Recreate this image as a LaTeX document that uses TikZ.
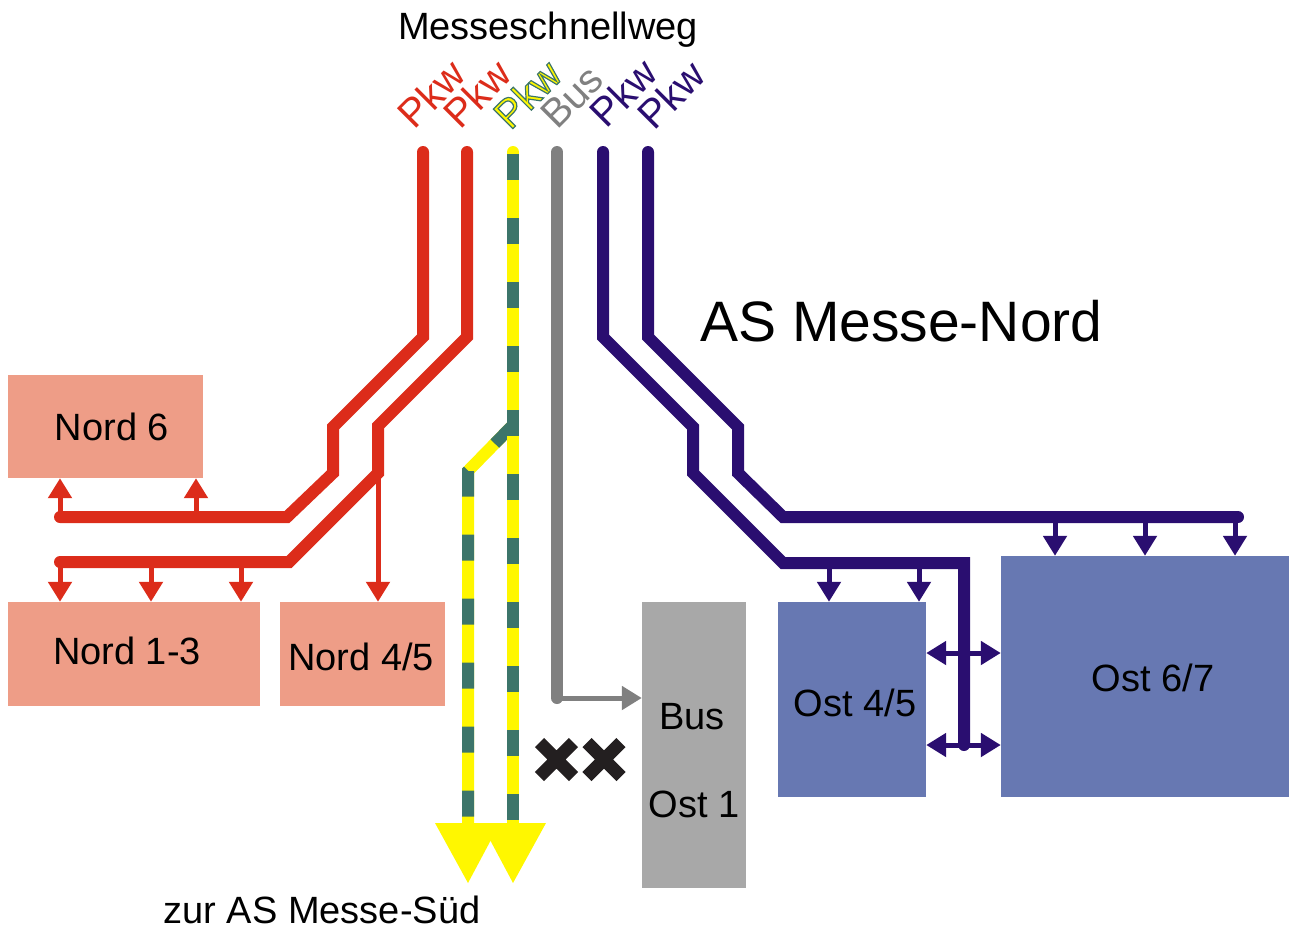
\documentclass[tikz,border=0pt]{standalone}
\usepackage{fontspec}
\setmainfont{Liberation Sans}
\newfontfamily\umriss[FakeBold=3]{Liberation Sans}
\usetikzlibrary{arrows.meta,positioning}

\definecolor{nordrot}{RGB}{220,44,26}
\definecolor{nordhalle}{RGB}{238,157,135}
\definecolor{ostblau}{RGB}{42,14,112}
\definecolor{osthalle}{RGB}{103,120,178}
\definecolor{busgrau}{RGB}{128,128,128}
\definecolor{bushalle}{RGB}{168,168,168}
\definecolor{suedgelb}{RGB}{255,247,0}
\definecolor{suedgruen}{RGB}{60,117,106}
\definecolor{sperre}{RGB}{35,31,32}

\tikzset{
  >={Triangle[width=23pt,length=20pt]},
  halle/.style={fill=#1, inner sep=0pt},
  strasse/.style={line width=12pt, #1, line cap=round},
  zufahrt/.style={line width=5pt, #1},
  streifen/.style={line width=12pt, suedgruen, dash pattern=on 26pt off 38pt},
  spur/.style={rotate=45, text=#1, font=\fontsize{40}{42}\selectfont},
  kreuz/.style={line width=13pt, sperre},
}

\begin{document}
\begin{tikzpicture}[x=1pt,y=-1pt,inner sep=0pt,font=\fontsize{38}{40}\selectfont]
\useasboundingbox (0,0) rectangle (1289,929);
% halls
\node[halle=nordhalle, minimum width=195pt, minimum height=103pt] (nord6) at (105.5,426.5) {};
\node[halle=nordhalle, minimum width=252pt, minimum height=104pt] (nord13) at (134,654) {};
\node[halle=nordhalle, minimum width=165pt, minimum height=104pt] (nord45) at (362.5,654) {};
\node[halle=bushalle, minimum width=104pt, minimum height=286pt] (busost) at (694,745) {};
\node[halle=osthalle, minimum width=148pt, minimum height=195pt] (ost45) at (852,699.5) {};
\node[halle=osthalle, minimum width=288pt, minimum height=241pt] (ost67) at (1145,676.5) {};
\node (nord6lbl) at (112,427) {Nord 6};
\node (nord13lbl) at (127,651) {Nord 1-3};
\node (nord45lbl) at (361,657) {Nord 4/5};
\node (buslbl) at (692,717) {Bus};
\node (ost1lbl) at (694,804) {Ost 1};
\node (ost45lbl) at (855,703) {Ost 4/5};
\node (ost67lbl) at (1153,678) {Ost 6/7};

% red roads to Nord
\draw[strasse=nordrot] (423,152) -- (423,337) -- (333,427) -- (333,473) -- (287,517) -- (60,517);
\draw[strasse=nordrot] (467,152) -- (467,337) -- (378,426) -- (378,473) -- (289,562) -- (60,562);
\foreach \x in {60,196}
  \draw[zufahrt=nordrot,->] (\x,517) -- (\x,0 |- nord6.south);
\foreach \x in {60,151,241}
  \draw[zufahrt=nordrot,->] (\x,562) -- (\x,0 |- nord13.north);
\draw[zufahrt=nordrot,->] (378,473) -- (378,0 |- nord45.north);

% through traffic to the south
\draw[strasse=suedgelb] (513,425) -- (468,471) -- (468,823);
\draw[streifen] (513,425) -- (468,471) -- (468,823);
\draw[strasse=suedgelb] (513,152) -- (513,823);
\draw[streifen, dash phase=62pt] (513,152) -- (513,823);
\fill[suedgelb] (435,823) -- (500,823) -- (468,883) -- cycle;
\fill[suedgelb] (481,823) -- (546,823) -- (513,883) -- cycle;

% bus
\draw[strasse=busgrau] (557,152) -- (557,698);
\draw[zufahrt=busgrau,->] (557,698) -- (busost.west |- 0,698);

% blue roads to Ost
\draw[strasse=ostblau] (603,152) -- (603,337) -- (693,427) -- (693,473) -- (783,563) -- (964,563) -- (964,745);
\draw[strasse=ostblau] (648,152) -- (648,337) -- (738,427) -- (738,473) -- (783,517) -- (1238,517);
\foreach \x in {1055,1145,1235}
  \draw[zufahrt=ostblau,->] (\x,517) -- (\x,0 |- ost67.north);
\foreach \x in {829,919}
  \draw[zufahrt=ostblau,->] (\x,563) -- (\x,0 |- ost45.north);
\foreach \y in {653,745}
  \draw[zufahrt=ostblau,<->] (ost45.east |- 0,\y) -- (ost67.west |- 0,\y);

% no passage
\draw[kreuz] (539.5,742.5) -- (573.5,776.5) (539.5,776.5) -- (573.5,742.5);
\draw[kreuz] (587,742.5) -- (621,776.5) (587,776.5) -- (621,742.5);

% lane labels
\node[spur=nordrot] (spur1) at (431,94) {Pkw};
\node[spur=nordrot] (spur2) at (477,94) {Pkw};
\node[spur=suedgelb, font=\umriss\fontsize{40}{42}\selectfont] (spur3) at (527,94)
  {\special{pdf:code 0.235 0.459 0.416 RG}Pkw};
\node[spur=busgrau] (spur4) at (572,97) {Bus};
\node[spur=ostblau] (spur5) at (623,93) {Pkw};
\node[spur=ostblau] (spur6) at (671,95) {Pkw};

\node[anchor=base] (schnellweg) at (548,39) {Messeschnellweg};
\node[anchor=base west, font=\fontsize{57}{60}\selectfont] (asnord) at (700,341) {AS Messe-Nord};
\node[anchor=base] (asued) at (322,923) {zur AS Messe-Süd};
\end{tikzpicture}
\end{document}
